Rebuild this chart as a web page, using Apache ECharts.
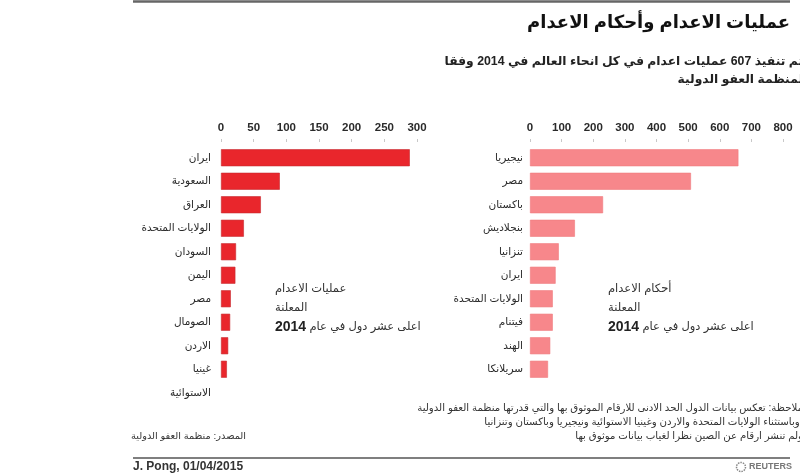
<!DOCTYPE html>
<html>
<head>
<meta charset="utf-8">
<style>html,body{margin:0;padding:0;background:#fff}#c{width:800px;height:476px}</style>
<script src="https://cdn.jsdelivr.net/npm/echarts@6/dist/echarts.min.js"></script>
</head>
<body>
<div id="c"></div>
<script>
// ---- data ----
const leftCats = ['ايران','السعودية','العراق','الولايات المتحدة','السودان','اليمن','مصر','الصومال','الاردن','غينيا الاستوائية'];
const leftVals = [289, 90, 61, 35, 23, 22, 15, 14, 11, 9];
const rightCats = ['نيجيريا','مصر','باكستان','بنجلاديش','تنزانيا','ايران','الولايات المتحدة','فيتنام','الهند','سريلانكا'];
const rightVals = [659, 509, 231, 142, 91, 81, 72, 72, 64, 57];
const leftAxisMax = 300, leftAxisStep = 50;
const rightAxisMax = 800, rightAxisStep = 100;

const titleText = 'عمليات الاعدام وأحكام الاعدام';
const subtitleLines = ['تم تنفيذ 607 عمليات اعدام في كل انحاء العالم في 2014 وفقا', 'لمنظمة العفو الدولية'];
const leftNoteLines = ['عمليات الاعدام', 'المعلنة', 'اعلى عشر دول في عام'];
const rightNoteLines = ['أحكام الاعدام', 'المعلنة', 'اعلى عشر دول في عام'];
const noteYear = '2014';
const footNotes = [
  'ملاحظة: تعكس بيانات الدول الحد الادنى للارقام الموثوق بها والتي قدرتها منظمة العفو الدولية',
  'وباستثناء الولايات المتحدة والاردن وغينيا الاستوائية ونيجيريا وباكستان وتنزانيا،',
  'ولم تنشر ارقام عن الصين نظرا لغياب بيانات موثوق بها'
];
const sourceText = 'المصدر: منظمة العفو الدولية';
const creditText = 'J. Pong, 01/04/2015';
const logoText = 'REUTERS';

const FONT = '"Liberation Sans", Arial, "DejaVu Sans", sans-serif';
// the last left-hand label wraps onto a second line below its bar
const wrapMap = { 'غينيا الاستوائية': ['غينيا', 'الاستوائية'] };

function valueAxis(grid, max, step) {
  return {
    type: 'value', gridIndex: grid, position: 'top', min: 0, max: max, interval: step, offset: 4,
    axisLine: { show: false },
    axisTick: { show: true, length: 3, lineStyle: { color: '#c8c8c8' } },
    splitLine: { show: false },
    axisLabel: { margin: 8, color: '#2a2a2a', fontWeight: 'bold', fontSize: 11.5, fontFamily: FONT }
  };
}
function catAxis(grid, cats, margin) {
  return {
    type: 'category', gridIndex: grid, inverse: true, data: cats,
    axisLine: { show: false }, axisTick: { show: false },
    axisLabel: { margin: margin, interval: 0, hideOverlap: false, color: '#2a2a2a', fontSize: 10.5, fontFamily: FONT,
      formatter: v => wrapMap[v] ? '{e|}\n{w|' + wrapMap[v][0] + '}\n{w|' + wrapMap[v][1] + '}' : v,
      rich: { e: { lineHeight: 24, fontSize: 10.5 }, w: { lineHeight: 24, fontSize: 10.5, color: '#2a2a2a', fontFamily: FONT } } }
  };
}

const chart = echarts.init(document.getElementById('c'), null, { renderer: 'canvas' });

const txt = (x, y, text, style) => ({ type: 'text', x: x, y: y, silent: true,
  style: Object.assign({ text: text, fontFamily: FONT, fill: '#222', verticalAlign: 'middle' }, style) });

function noteBlock(x, lines) {
  return [
    txt(x, 289, lines[0], { align: 'left', fontSize: 11.5, fill: '#333' }),
    txt(x, 308, lines[1], { align: 'left', fontSize: 11.5, fill: '#333' }),
    { type: 'text', x: x, y: 327, silent: true,
      style: { text: '{y|' + noteYear + '} {t|' + lines[2] + '}', align: 'left', verticalAlign: 'middle',
        rich: { y: { fontSize: 14, fontWeight: 'bold', fill: '#222', fontFamily: FONT },
                t: { fontSize: 11.5, fill: '#333', fontFamily: FONT } } } }
  ];
}

const graphics = [
  { type: 'line', silent: true, shape: { x1: 133, y1: 1.5, x2: 790, y2: 1.5 }, style: { stroke: '#666', lineWidth: 2.5 } },
  txt(790, 23, titleText, { align: 'right', fontSize: 18, fontWeight: 'bold', fill: '#111' }),
  txt(803, 62, subtitleLines[0], { align: 'right', fontSize: 12.3, fontWeight: 'bold', fill: '#222' }),
  txt(803, 80, subtitleLines[1], { align: 'right', fontSize: 12.3, fontWeight: 'bold', fill: '#222' }),
  ...noteBlock(275, leftNoteLines),
  ...noteBlock(608, rightNoteLines),
  txt(803, 408, footNotes[0], { align: 'right', fontSize: 10.2, fill: '#333' }),
  txt(803, 422, footNotes[1], { align: 'right', fontSize: 10.2, fill: '#333' }),
  txt(803, 436, footNotes[2], { align: 'right', fontSize: 10.2, fill: '#333' }),
  txt(246, 436, sourceText, { align: 'right', fontSize: 9.8, fill: '#333' }),
  { type: 'line', silent: true, shape: { x1: 133, y1: 458, x2: 790, y2: 458 }, style: { stroke: '#555', lineWidth: 1.5 } },
  txt(133, 467, creditText, { align: 'left', fontSize: 12, fontWeight: 'bold', fill: '#333' }),
  { type: 'circle', silent: true, shape: { cx: 741, cy: 467, r: 4.5 }, style: { fill: 'none', stroke: '#888', lineWidth: 1.5, lineDash: [1.5, 1] } },
  txt(749, 467, logoText, { align: 'left', fontSize: 9, fontWeight: 'bold', fill: '#777' })
];

chart.setOption({
  backgroundColor: '#fff',
  animation: false,
  grid: [
    { left: 221, width: 196, top: 146, height: 235 },
    { left: 530, width: 253, top: 146, height: 235 }
  ],
  xAxis: [valueAxis(0, leftAxisMax, leftAxisStep), valueAxis(1, rightAxisMax, rightAxisStep)],
  yAxis: [catAxis(0, leftCats, 10), catAxis(1, rightCats, 7)],
  series: [
    { type: 'bar', xAxisIndex: 0, yAxisIndex: 0, data: leftVals, barWidth: 17,
      itemStyle: { color: '#e9262c', borderColor: '#c62a2f', borderWidth: 0.6 } },
    { type: 'bar', xAxisIndex: 1, yAxisIndex: 1, data: rightVals, barWidth: 17,
      itemStyle: { color: '#f7878b', borderColor: '#f07a7e', borderWidth: 0.6 } }
  ],
  graphic: graphics
});
</script>
</body>
</html>
